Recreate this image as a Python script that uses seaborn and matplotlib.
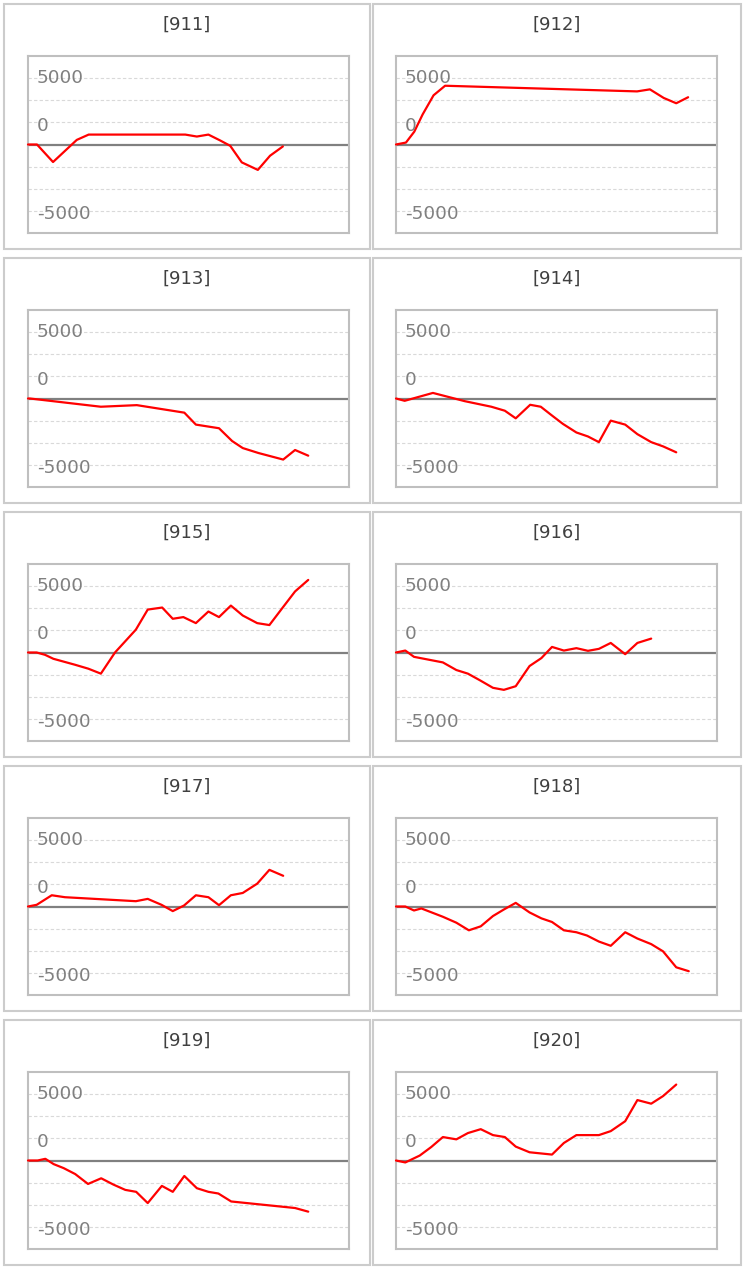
import pandas as pd
import seaborn as sns
import matplotlib.pyplot as plt
from matplotlib.patches import Rectangle

sns.set_style('white')
plt.rcParams['font.family'] = ['DejaVu Sans']

titles = ['[911]', '[912]', '[913]', '[914]', '[915]',
          '[916]', '[917]', '[918]', '[919]', '[920]']

# x runs 0..100 across the plot box, y values
x_911 = [0, 2.8, 7.8, 15.2, 18.9, 49, 52.6, 56.2, 59.9, 63, 66.6, 71.6, 75.4, 79.4]
y_911 = [0, 0, -1980, 520, 1120, 1120, 900, 1120, 450, -150, -2020, -2870, -1270, -220]

x_912 = [0, 3.1, 5.7, 8.3, 11.7, 15.3, 75.1, 79.1, 83.4, 87.3, 91]
y_912 = [0, 220, 1450, 3400, 5560, 6640, 6000, 6230, 5260, 4660, 5340]

x_913 = [0, 0.6, 22.7, 33.9, 48.7, 52.3, 59.5, 63.6, 66.9, 71.8, 79.5, 83.2, 87.3]
y_913 = [0, 0, -930, -750, -1600, -2950, -3360, -4810, -5600, -6160, -6900, -5820, -6460]

x_914 = [0, 2.7, 11.5, 21.4, 29.7, 33.9, 37.3, 41.8, 45.1, 48.4, 52, 56.2,
         59.8, 63.2, 66.9, 71.4, 75.2, 79.5, 83.2, 87.3]
y_914 = [0, -260, 630, -300, -930, -1380, -2240, -710, -930, -1870, -2870, -3840,
         -4290, -4930, -2500, -2950, -4030, -4930, -5410, -6080]

x_915 = [0, 2.7, 5.3, 7.9, 14.6, 18.8, 22.7, 27.1, 33.6, 37.3, 41.8, 45.1,
         48.4, 52.3, 56.2, 59.5, 63.2, 66.9, 71.4, 75.2, 79.5, 83.2, 87.3]
y_915 = [0, 0, -260, -710, -1380, -1830, -2390, 0, 2580, 4850, 5080, 3810,
         4000, 3320, 4630, 4000, 5300, 4180, 3320, 3100, 5150, 6900, 8200]

x_916 = [0, 2.9, 5.6, 14.6, 18.8, 22.4, 26.1, 30.2, 33.6, 37.3, 41.6,
         45.3, 48.6, 52.3, 56.2, 59.8, 63.2, 66.9, 71.4, 75.2, 79.5]
y_916 = [0, 220, -490, -1120, -1980, -2390, -3130, -3990, -4220, -3810, -1530,
         -630, 630, 220, 490, 190, 410, 1080, -190, 1080, 1570]

x_917 = [0, 2.7, 7.4, 11.5, 33.6, 37.3, 41.6, 45.1, 48.6, 52.3, 56.2,
         59.5, 63.2, 66.9, 71.4, 75.2, 79.5]
y_917 = [0, 190, 1270, 1050, 600, 860, 190, -520, 110, 1270, 1050,
         150, 1270, 1530, 2580, 4140, 3470]

x_918 = [0, 2.9, 5.6, 7.9, 14.6, 18.8, 22.7, 26.4, 30.2, 33.6, 37.3, 41.6, 45.3,
         48.6, 52.3, 56.2, 59.5, 63.2, 66.9, 71.4, 75.2, 79.5, 83.2, 87.3, 91.2]
y_918 = [0, 0, -450, -220, -1160, -1830, -2690, -2240, -1080, -340, 410, -670, -1340,
         -1750, -2690, -2910, -3280, -3960, -4440, -2910, -3620, -4250, -5070, -6870, -7310]

x_919 = [0, 3, 5.4, 8, 11.1, 14.7, 18.7, 22.8, 26.6, 30.3, 33.7, 37.3, 41.7,
         45.1, 48.7, 52.6, 56.2, 59.3, 63.3, 83.2, 87.3]
y_919 = [0, 0, 190, -410, -860, -1530, -2650, -2010, -2720, -3320, -3540, -4810, -2870,
         -3540, -1750, -3130, -3540, -3730, -4630, -5370, -5780]

x_920 = [0, 2.9, 7.4, 11, 14.6, 18.8, 22.4, 26.4, 30.2, 33.9, 37.3, 41.6,
         48.6, 52.3, 56.2, 63.2, 66.9, 71.4, 75.2, 79.5, 83.2, 87.3]
y_920 = [0, -220, 560, 1530, 2650, 2390, 3100, 3540, 2870, 2650, 1570, 930,
         670, 1980, 2870, 2870, 3320, 4440, 6830, 6420, 7280, 8580]

series = [(x_911, y_911), (x_912, y_912), (x_913, y_913), (x_914, y_914),
          (x_915, y_915), (x_916, y_916), (x_917, y_917), (x_918, y_918),
          (x_919, y_919), (x_920, y_920)]

grid_vals = [-7500, -5000, -2500, 2500, 5000, 7500]
label_pos = [7500, 2100, -7850]
label_txt = ['5000', '0', '-5000']

W, H = 745, 1268
fig = plt.figure(figsize=(W / 100, H / 100), dpi=100)

col_outer = [(4, 370), (373, 741)]
col_inner = [(28, 349), (396, 717)]
row_step = 254

for i, title in enumerate(titles):
    r, c = divmod(i, 2)
    top = 4 + r * row_step
    ox0, ox1 = col_outer[c]
    fig.patches.append(Rectangle((ox0 / W, 1 - (top + 245) / H), (ox1 - ox0) / W, 245 / H,
                                 transform=fig.transFigure, fill=False,
                                 ec='#cccccc', lw=1.5))
    fig.text((ox0 + ox1) / 2 / W, 1 - (top + 21) / H, title, ha='center', va='center',
             fontsize=13, color='#404040')

    ix0, ix1 = col_inner[c]
    ax = fig.add_axes([ix0 / W, 1 - (top + 52 + 177) / H, (ix1 - ix0) / W, 177 / H])
    xs, ys = series[i]
    df = pd.DataFrame({'x': xs, 'y': ys})
    ax.axhline(0, color='#808080', lw=1.6, zorder=1)
    sns.lineplot(data=df, x='x', y='y', ax=ax, color='#ff0000', lw=1.6,
                 estimator=None, sort=False, clip_on=False, zorder=3)
    ax.set_xlim(0, 100)
    ax.set_ylim(-10000, 10000)
    ax.set_xticks([])
    ax.set_yticks(grid_vals)
    ax.set_yticklabels([])
    ax.tick_params(length=0)
    ax.grid(axis='y', ls=(0, (3, 2)), color='#d9d9d9', lw=0.8)
    ax.set(xlabel='', ylabel='')
    for s in ax.spines.values():
        s.set_color('#bfbfbf')
        s.set_linewidth(1.5)
    for v, lab in zip(label_pos, label_txt):
        ax.text(0.027, v, lab, transform=ax.get_yaxis_transform(), ha='left',
                va='center', fontsize=13.3, color='#808080')

fig.savefig('out.png', dpi=100)
